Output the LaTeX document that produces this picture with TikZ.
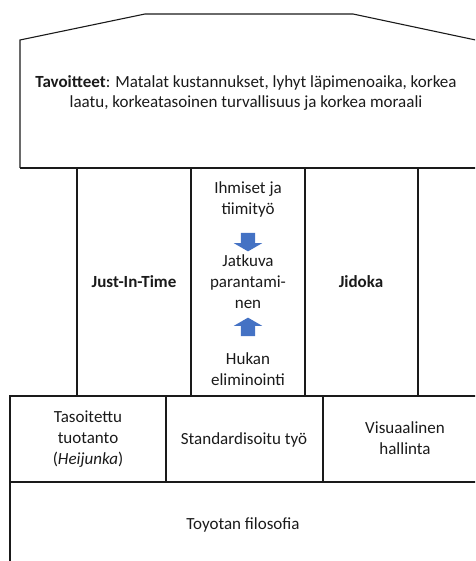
\documentclass[tikz,border=0pt]{standalone}
\usepackage{fontspec}
\setmainfont{Carlito}
\usepackage{tikz}
\usetikzlibrary{shapes.arrows}
\definecolor{frameline}{HTML}{1A1A1A}
\definecolor{textdark}{HTML}{1A1A1A}
\definecolor{arrowblue}{HTML}{4472C4}
\tikzset{
  frame/.style={draw=frameline, line width=1.1pt, line join=miter},
  celltext/.style={
    font=\fontsize{17}{21}\selectfont, text=textdark,
    align=center, inner sep=0pt
  },
  goaltext/.style={
    font=\fontsize{17}{20}\selectfont, text=textdark,
    align=center, inner sep=0pt
  },
  flowarrow/.style={
    single arrow, fill=arrowblue, draw=none,
    inner sep=7pt, minimum height=15pt,
    single arrow head extend=7pt, single arrow tip angle=120,
    shape border rotate=#1
  },
  flowarrow/.default=270,
}

\begin{document}
\begin{tikzpicture}[x=1pt, y=-1pt]
  \useasboundingbox (0,0) rectangle (475,561);
  \clip (0,0) rectangle (475,561);

  % roof and goals
  \draw[frame] (20,168) -- (20,40) -- (145,14) -- (353,14) -- (485,42);
  \draw[frame] (20,168) -- (485,168);
  \node[goaltext] (goals) at (246,93)
    {\textbf{Tavoitteet}: Matalat kustannukset, lyhyt läpimenoaika, korkea\\
     laatu, korkeatasoinen turvallisuus ja korkea moraali};

  % pillars
  \foreach \px in {77,191,305,418}
    \draw[frame] (\px,168) -- (\px,396);
  \node[celltext] (jit) at (134,282) {\textbf{Just-In-Time}};
  \node[celltext] (jidoka) at (361,282) {\textbf{Jidoka}};

  \node[celltext] (people) at (248,199) {Ihmiset ja\\tiimityö};
  \node[flowarrow=270] (down) at (248,240) {};
  \node[celltext] (kaizen) at (248,282) {Jatkuva\\parantami-\\nen};
  \node[flowarrow=90] (up) at (248,329) {};
  \node[celltext] (waste) at (248,369) {Hukan\\eliminointi};

  % foundation
  \draw[frame] (485,396) -- (10,396) -- (10,570);
  \draw[frame] (10,482) -- (485,482);
  \draw[frame] (166,396) -- (166,482);
  \draw[frame] (323,396) -- (323,482);
  \node[celltext] (heijunka) at (88,439) {Tasoitettu\\tuotanto\\(\textit{Heijunka})};
  \node[celltext] (std) at (244,440) {Standardisoitu työ};
  \node[celltext] (visual) at (405,438) {Visuaalinen\\hallinta};
  \node[celltext] (philo) at (243,525) {Toyotan filosofia};
\end{tikzpicture}
\end{document}
